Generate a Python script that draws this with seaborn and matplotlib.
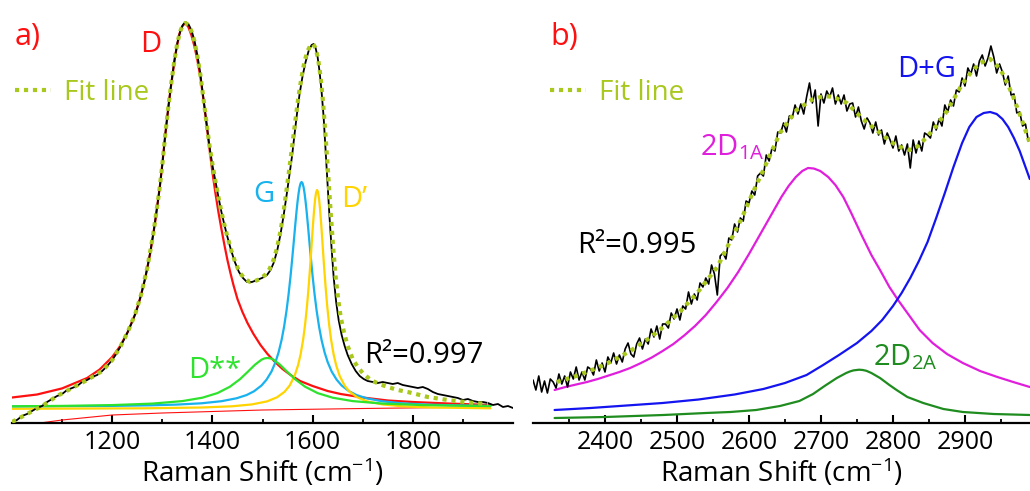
import numpy as np
import matplotlib
matplotlib.use("Agg")
import matplotlib.pyplot as plt
from matplotlib.ticker import FixedLocator
import seaborn as sns

# ---------------- panel a) : first-order region (1000-2000 cm-1) ----------------
a_data_x = [1000, 1010, 1020, 1030, 1040, 1050, 1060, 1070, 1080, 1090, 1100, 1110, 1120, 1130,
            1140, 1150, 1160, 1170, 1180, 1190, 1200, 1208, 1216, 1224, 1231, 1238, 1246, 1252,
            1258, 1264, 1270, 1276, 1282, 1288, 1294, 1300, 1306, 1312, 1318, 1324, 1330, 1336,
            1341, 1346, 1352, 1358, 1364, 1370, 1376, 1382, 1388, 1394, 1400, 1406, 1412, 1418,
            1424, 1430, 1436, 1444, 1453, 1461, 1469, 1479, 1489, 1499, 1509, 1516, 1523, 1530,
            1536, 1542, 1549, 1554, 1559, 1564, 1569, 1574, 1580, 1586, 1592, 1598, 1602, 1606,
            1610, 1614, 1618, 1622, 1626, 1630, 1634, 1638, 1642, 1647, 1652, 1658, 1664, 1670,
            1678, 1686, 1694, 1702, 1710, 1720, 1730, 1740, 1750, 1760, 1770, 1780, 1790, 1800,
            1810, 1820, 1830, 1840, 1850, 1860, 1870, 1880, 1890, 1900, 1910, 1920, 1930, 1940,
            1950, 1960, 1970, 1980, 1990, 2000]
a_data_y = [1, 3, 7, 9, 12, 15, 17, 21, 24, 27, 29, 33, 35, 37,
            41, 43, 46, 48, 52, 57, 63, 69, 76, 84, 91, 99, 109, 118,
            129, 141, 155, 171, 189, 210, 232, 258, 289, 316, 340, 362, 380, 392,
            398, 401, 399, 393, 383, 368, 349, 325, 301, 277, 258, 242, 226, 211,
            198, 186, 175, 162, 151, 145, 141, 141, 143, 145, 148, 153, 161, 174,
            189, 207, 231, 249, 267, 289, 310, 329, 347, 361, 372, 378, 379, 375,
            366, 351, 331, 306, 272, 238, 204, 174, 146, 121, 103, 88, 77, 68,
            59, 52, 47, 44, 42, 41, 40, 41, 40, 39, 40, 38, 37, 36,
            35, 36, 34, 31, 29, 28, 27, 26, 25, 23, 24, 22, 21, 21,
            20, 18, 19, 16, 17, 15]

a_fit_x = [1000, 1030, 1060, 1090, 1120, 1150, 1180, 1200, 1216, 1231, 1246, 1258, 1270, 1282,
           1294, 1300, 1306, 1312, 1318, 1324, 1330, 1336, 1341, 1346, 1352, 1358, 1364, 1370,
           1376, 1382, 1388, 1394, 1400, 1406, 1412, 1418, 1424, 1430, 1438, 1446, 1455, 1465,
           1475, 1485, 1495, 1505, 1514, 1522, 1529, 1536, 1542, 1548, 1554, 1560, 1566, 1572,
           1578, 1584, 1590, 1596, 1601, 1606, 1611, 1616, 1621, 1626, 1631, 1636, 1641, 1646,
           1651, 1656, 1663, 1670, 1680, 1690, 1700, 1716, 1733, 1750, 1770, 1790, 1810, 1830,
           1850, 1870, 1895, 1922, 1950]
a_fit_y = [1, 9, 17, 27, 35, 43, 52, 63, 76, 91, 109, 129, 155, 189,
           232, 258, 289, 316, 340, 362, 380, 392, 398, 400, 398, 392, 382, 367,
           348, 325, 301, 278, 259, 242, 226, 211, 198, 186, 172, 160, 150, 144,
           141, 142, 144, 148, 154, 163, 175, 192, 211, 233, 256, 280, 304, 327,
           346, 362, 372, 378, 379, 375, 364, 346, 320, 286, 250, 211, 176, 146,
           124, 106, 90, 77, 64, 56, 50, 43, 39, 36, 33, 31, 28.5, 26,
           24.5, 23, 21.5, 20, 19]

# D band
d_x = [1000, 1050, 1100, 1150, 1175, 1200, 1216, 1231, 1246, 1256, 1266, 1276, 1286, 1296,
       1306, 1316, 1326, 1334, 1340, 1346, 1352, 1358, 1364, 1370, 1376, 1382, 1388, 1394,
       1400, 1406, 1412, 1418, 1424, 1430, 1436, 1442, 1450, 1460, 1470, 1482, 1496, 1510,
       1525, 1540, 1556, 1575, 1600, 1630, 1656, 1700, 1750, 1800, 1870, 1955]
d_y = [25.5, 28.5, 34.6, 45, 53.5, 66, 77, 91, 109, 125, 145, 170, 202, 240,
       288, 332, 368, 389, 397, 400, 396, 388, 377, 363, 346, 324, 300, 275,
       251, 230, 211, 194, 178, 163, 150, 138, 124, 111, 100, 89, 78, 69,
       61, 54, 48, 42, 37, 32, 29, 25.5, 22.5, 21, 19.5, 18]

# G band
g_x = [1000, 1200, 1278, 1328, 1378, 1418, 1448, 1468, 1483, 1498, 1508, 1518, 1526, 1532,
       1538, 1543, 1548, 1552, 1556, 1559, 1562, 1565, 1568, 1570, 1572, 1574, 1576, 1578,
       1580, 1582, 1584, 1586, 1588, 1591, 1594, 1597, 1600, 1604, 1608, 1613, 1618, 1624,
       1630, 1638, 1648, 1658, 1673, 1688, 1708, 1738, 1778, 1828, 1878, 1955]
g_y = [16.5, 17.1, 17.7, 18.4, 19.7, 21.8, 24.7, 27.9, 31.7, 37.5, 43.3, 51.5, 61, 70.5,
       82.8, 96, 112.5, 128.5, 147, 162.7, 179, 196, 212, 221.5, 229.6, 235.8, 239.7, 241,
       239.7, 235.8, 229.6, 221.5, 212, 196, 179, 162.7, 147, 128.5, 112.5, 96, 82.8, 70.5,
       61, 51.5, 43.3, 37.5, 31.7, 27.9, 24.7, 21.8, 19.7, 18.4, 17.7, 17.1]

# D' band
dp_x = [1000, 1263, 1379, 1439, 1479, 1509, 1529, 1544, 1554, 1564, 1571, 1576, 1581, 1585,
        1589, 1592, 1595, 1597, 1599, 1601, 1603, 1605, 1607, 1609, 1611, 1613, 1615, 1617,
        1619, 1621, 1623, 1626, 1629, 1633, 1637, 1642, 1647, 1654, 1664, 1674, 1689, 1709,
        1739, 1779, 1839, 1955]
dp_y = [14.2, 14.7, 15.5, 16.7, 18.6, 21.6, 25.7, 31.2, 37.3, 47.1, 57.8, 68.5, 83, 98.4,
        117.9, 135.7, 155.9, 170.5, 185.5, 200, 213, 223.7, 230.6, 233, 230.6, 223.7, 213, 200,
        185.5, 170.5, 155.9, 135.7, 117.9, 98.4, 83, 68.5, 57.8, 47.1, 37.3, 31.2, 25.7, 21.6,
        18.6, 16.7, 15.5, 14.7]

# D** band
dss_x = [1000, 1100, 1200, 1280, 1340, 1380, 1410, 1435, 1455, 1470, 1485, 1498, 1504, 1510,
         1516, 1522, 1535, 1550, 1565, 1585, 1610, 1640, 1680, 1740, 1820, 1900, 1955]
dss_y = [16.7, 17.1, 17.9, 19.4, 21.9, 25.3, 29.9, 36.3, 43.8, 50.9, 58.3, 63.3, 64.6, 65,
         64.6, 63.3, 58.3, 50.9, 43.8, 36.3, 29.9, 25.3, 21.9, 19.4, 17.9, 17.25, 17]

# background
base_x = [1056, 1100, 1150, 1200, 1300, 1400, 1500, 1700, 1955]
base_y = [0, 3, 5.5, 8, 10, 11.5, 13, 14.5, 16]

# ---------------- panel b) : second-order region (2300-2990 cm-1) ----------------
b_data_x = np.arange(2300, 2989, 4)
b_data_y = [43, 33, 47, 31, 42, 30, 44, 41, 35, 49,
            39, 47, 36, 51, 44, 56, 43, 51, 43, 56,
            54, 48, 63, 52, 60, 51, 66, 60, 70, 59,
            68, 61, 74, 80, 69, 66, 79, 85, 74, 84,
            79, 94, 86, 97, 84, 99, 99, 95, 110, 104,
            114, 103, 117, 114, 131, 119, 129, 123, 140, 136,
            145, 139, 158, 149, 128, 167, 170, 164, 185, 183,
            199, 191, 205, 202, 222, 220, 232, 228, 247, 250,
            247, 268, 262, 275, 272, 291, 290, 300, 291, 307,
            305, 318, 309, 319, 309, 326, 340, 320, 333, 297,
            329, 320, 332, 326, 335, 319, 328, 319, 328, 312,
            319, 320, 306, 316, 302, 294, 305, 300, 290, 301,
            288, 293, 279, 290, 283, 275, 287, 272, 278, 268,
            279, 255, 283, 270, 282, 272, 290, 288, 285, 301,
            293, 304, 297, 318, 311, 323, 317, 333, 331, 345,
            337, 355, 349, 359, 347, 362, 368, 357, 365, 377,
            366, 350, 359, 351, 338, 347, 328, 329, 310, 311,
            297, 299, 282]

b_fit_x = [2333, 2360, 2389, 2410, 2435, 2460, 2481, 2505, 2528, 2556, 2574, 2590, 2605, 2620,
           2643, 2666, 2689, 2705, 2717, 2736, 2758, 2782, 2805, 2823, 2835, 2847, 2860, 2875,
           2897, 2910, 2921, 2935, 2949, 2960, 2967, 2978, 2990]
b_fit_y = [41, 47, 55, 62, 72, 84, 96, 112, 130, 156, 182, 205, 230, 253,
           290, 313, 324, 327, 326, 320, 304, 290, 277, 273, 277, 286, 297, 312,
           340, 352, 360, 364, 354, 338, 326, 305, 280]

# 2D1A band
d1a_x = [2330, 2345, 2360, 2375, 2390, 2405, 2420, 2435, 2450, 2465, 2480, 2495, 2510, 2525,
         2540, 2555, 2570, 2585, 2600, 2615, 2630, 2645, 2655, 2665, 2674, 2682, 2690, 2699,
         2710, 2720, 2731, 2742, 2757, 2770, 2782, 2795, 2807, 2820, 2837, 2855, 2875, 2897,
         2921, 2945, 2967, 2990]
d1a_y = [33, 36, 38.5, 41, 44, 47.5, 51, 55, 60, 65.5, 72, 79, 87.5, 97,
         108, 121, 135, 151, 169, 188, 207, 226, 237, 246, 252, 255, 254.5, 252,
         246, 238, 226, 210, 187, 168, 153, 136, 123, 110, 93, 80, 69, 60,
         52, 46, 41, 36]

# D+G band
dg_x = [2330, 2380, 2430, 2480, 2530, 2580, 2620, 2650, 2680, 2703, 2725, 2750, 2770, 2785,
        2800, 2812, 2824, 2836, 2848, 2860, 2872, 2884, 2896, 2906, 2916, 2926, 2935, 2944,
        2952, 2960, 2968, 2976, 2983, 2990]
dg_y = [13, 15, 17.5, 20, 23.5, 28.5, 34, 40, 48, 58, 68, 80, 92, 103,
        117, 130, 145, 162, 181, 205, 230, 256, 280, 296, 306, 310, 311, 309,
        304, 296, 285, 272, 258, 244]

# 2D2A band
d2a_x = [2330, 2400, 2481, 2540, 2574, 2610, 2643, 2670, 2689, 2705, 2722, 2735, 2740, 2745,
         2753, 2758, 2763, 2770, 2782, 2795, 2805, 2820, 2842, 2870, 2897, 2940, 2990]
d2a_y = [5, 6, 8, 10, 11, 13, 17, 22, 29, 37, 45, 50, 51.5, 52.6,
         53.3, 53, 52.2, 50, 45, 38, 33, 26, 20, 14, 11, 9, 8]

# ---------------- styling ----------------
RED = "#ff1010"
CYAN = "#18b2ee"
YELLOW = "#ffd400"
LIME = "#2ee22e"
FIT = "#a8c81e"
MAGENTA = "#e01fdc"
BLUE = "#1414f0"
DKGREEN = "#1f8c1f"

sns.set_theme(style="white")
plt.rcParams["font.family"] = ["Open Sans", "DejaVu Sans"]
plt.rcParams["mathtext.fontset"] = "custom"
plt.rcParams["mathtext.rm"] = "Open Sans"
plt.rcParams["mathtext.it"] = "Open Sans"
plt.rcParams["mathtext.bf"] = "Open Sans"

fig = plt.figure(figsize=(10.30, 4.91), dpi=100)
ax_a = fig.add_axes([12 / 1030, 68 / 491, 501 / 1030, 413 / 491])
ax_b = fig.add_axes([533 / 1030, 68 / 491, 497 / 1030, 413 / 491])


def draw(ax, x, y, color, lw, z, **kw):
    sns.lineplot(x=np.asarray(x, float), y=np.asarray(y, float), ax=ax, color=color,
                 linewidth=lw, zorder=z, sort=False, estimator=None, legend=False, **kw)


fit_style = dict(linestyle=(0, (1.0, 1.15)), dash_capstyle="butt")

# panel a lines
draw(ax_a, base_x, base_y, RED, 0.8, 2)
draw(ax_a, d_x, d_y, RED, 1.6, 3)
draw(ax_a, g_x, g_y, CYAN, 1.6, 3)
draw(ax_a, dp_x, dp_y, YELLOW, 1.6, 3)
draw(ax_a, dss_x, dss_y, LIME, 1.6, 3)
draw(ax_a, a_data_x, a_data_y, "black", 1.3, 4)
draw(ax_a, a_fit_x, a_fit_y, FIT, 3.0, 5, label="Fit line", **fit_style)

# panel b lines
draw(ax_b, d1a_x, d1a_y, MAGENTA, 1.6, 3)
draw(ax_b, dg_x, dg_y, BLUE, 1.6, 3)
draw(ax_b, d2a_x, d2a_y, DKGREEN, 1.6, 3)
draw(ax_b, b_data_x, b_data_y, "black", 1.2, 4)
draw(ax_b, b_fit_x, b_fit_y, FIT, 3.0, 5, label="Fit line", **fit_style)

for ax, xlim, major, minor in [
    (ax_a, (1000, 2000), [1200, 1400, 1600, 1800], [1100, 1300, 1500, 1700, 1900]),
    (ax_b, (2300, 2990.3), [2400, 2500, 2600, 2700, 2800, 2900],
     [2350, 2450, 2550, 2650, 2750, 2850, 2950]),
]:
    ax.set_xlim(*xlim)
    ax.set_ylim(0, 413)
    ax.xaxis.set_major_locator(FixedLocator(major))
    ax.xaxis.set_minor_locator(FixedLocator(minor))
    ax.set_yticks([])
    ax.set_ylabel("")
    for side in ("left", "right", "top"):
        ax.spines[side].set_visible(False)
    ax.spines["bottom"].set_linewidth(1.6)
    ax.spines["bottom"].set_color("black")
    ax.tick_params(axis="x", which="major", direction="in", length=6, width=1.5,
                   pad=5, labelsize=18, colors="black", bottom=True)
    ax.tick_params(axis="x", which="minor", direction="in", length=3, width=1.3,
                   colors="black", bottom=True)
    ax.set_xlabel("Raman Shift (cm$^{\\mathregular{-1}}$)", fontsize=20, color="black",
                  va="baseline")
    # baseline of the axis title 60 px under the axis line
    ax.xaxis.set_label_coords(0.5, -59 / 413)
    ax.patch.set_alpha(0)

# legends for the fit line
ax_a.legend(loc="center left", bbox_to_anchor=(3 / 501, 330 / 413), frameon=False,
            fontsize=20, handlelength=1.3, handletextpad=0.45, borderpad=0,
            borderaxespad=0, labelcolor=FIT)
ax_b.legend(loc="center left", bbox_to_anchor=(17 / 497, 330 / 413), frameon=False,
            fontsize=20, handlelength=1.3, handletextpad=0.45, borderpad=0,
            borderaxespad=0, labelcolor=FIT)

# annotations, panel a
TXT = 21
ax_a.text(1006, 378, "a)", color=RED, fontsize=22, va="baseline")
ax_a.text(1256, 371, "D", color=RED, fontsize=TXT, va="baseline")
ax_a.text(1482, 221, "G", color=CYAN, fontsize=TXT, va="baseline")
ax_a.text(1656, 216, "D\u2019", color=YELLOW, fontsize=TXT, va="baseline")
ax_a.text(1352, 45, "D**", color=LIME, fontsize=TXT, va="baseline")
ax_a.text(1702, 60, "R\u00b2=0.997", color="black", fontsize=TXT, va="baseline")

# annotations, panel b
ax_b.text(2324, 378, "b)", color=RED, fontsize=22, va="baseline")
ax_b.text(2806, 346, "D+G", color=BLUE, fontsize=TXT, va="baseline")
ax_b.text(2532, 268, r"2D$_{\mathregular{1A}}$", color=MAGENTA, fontsize=TXT, va="baseline")
ax_b.text(2361, 170, "R\u00b2=0.995", color="black", fontsize=TXT, va="baseline")
ax_b.text(2772, 58, r"2D$_{\mathregular{2A}}$", color=DKGREEN, fontsize=TXT, va="baseline")

fig.savefig("out.png", dpi=100, facecolor="white")
